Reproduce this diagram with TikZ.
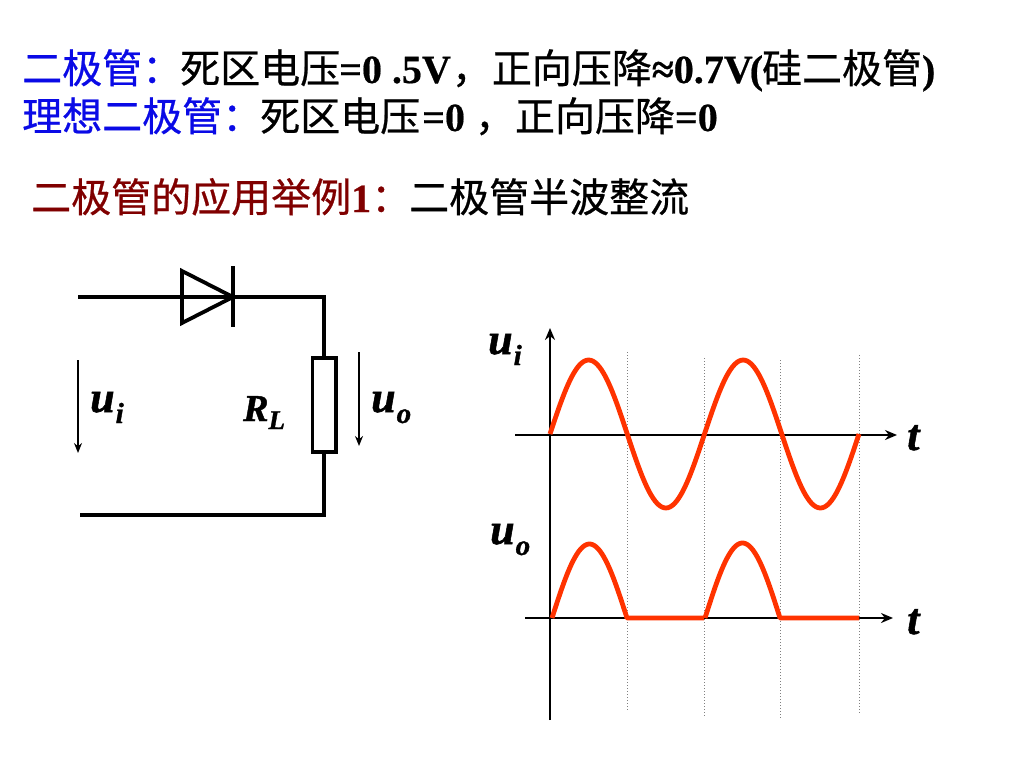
\documentclass[tikz,border=0pt]{standalone}
\usepackage{fontspec}
\setmainfont[BoldFeatures={FakeBold=0.5},BoldItalicFeatures={FakeBold=1.2}]{Liberation Serif}
\newfontfamily\cjk[FakeBold=0.6]{Noto Sans CJK SC}
\usetikzlibrary{arrows.meta}
\definecolor{cblue}{RGB}{10,10,230}
\definecolor{cdark}{RGB}{128,0,0}
\definecolor{cred}{RGB}{255,51,0}
\newcommand{\cn}[1]{{\cjk\mdseries #1}}
\newcommand{\varsub}[2]{{\fontsize{44}{44}\selectfont\bfseries\itshape #1\hspace{1pt}\raisebox{-11pt}{\fontsize{29}{29}\selectfont #2}}}
\tikzset{
  txt/.style={anchor=base west,inner sep=0pt,font=\fontsize{40}{40}\selectfont\bfseries},
  var/.style={anchor=base west,inner sep=0pt},
  wire/.style={line width=3.8pt,line cap=butt,line join=miter},
  sig/.style={-{Stealth[length=10pt,width=8pt]},line width=2.4pt},
  axis/.style={-{Stealth[length=12pt,width=10pt]},line width=2.6pt},
  guide/.style={dotted,line width=1pt,gray},
  wave/.style={cred,line width=4.8pt,line join=round,line cap=butt},
}
\begin{document}
\begin{tikzpicture}[x=1pt,y=-1pt]
\useasboundingbox (0,0) rectangle (1024,768);
\fill[white] (0,0) rectangle (1024,768);
% headings
\node[txt] (h1a) at (22,83) {\textcolor{cblue}{\cn{二极管：}}\hspace{-2pt}\cn{死区电压}\hspace{-1pt}=0 .5V\hspace{1pt}\cn{，正向压降}≈0.7V\hspace{-3pt}(\hspace{-1pt}\cn{硅二极管})};
\node[txt] (h2a) at (22,131) {\textcolor{cblue}{\cn{理想二极管：}}\hspace{-2pt}\cn{死区电压}\hspace{2pt}=0 \cn{，正向压降}=0};
\node[txt] (h3a) at (31,212) {\textcolor{cdark}{\cn{二极管的应用举例}1\cn{：}}\hspace{-2pt}\cn{二极管半波整流}};
% circuit
\coordinate (inTop) at (78,297);
\coordinate (triT) at (182,271);
\coordinate (triB) at (182,323);
\coordinate (cath) at (233,297);
\coordinate (barT) at (233,266);
\coordinate (barB) at (233,327);
\coordinate (corTop) at (324,297);
\coordinate (resT) at (324,358);
\coordinate (resB) at (324,452);
\coordinate (corBot) at (324,515);
\coordinate (inBot) at (80,515);
\draw[wire] (inTop) -- (cath) -- (corTop) -- (resT);
\draw[wire] (triT) -- (cath) -- (triB) -- cycle;
\draw[wire] (barT) -- (barB);
\draw[wire] (312.5,358) rectangle (336,452);
\draw[wire] (resB) -- (corBot) -- (inBot);
\coordinate (uiT) at (78,360);
\coordinate (uiB) at (78,453);
\coordinate (uoT) at (359,352);
\coordinate (uoB) at (359,446);
\draw[sig] (uiT) -- (uiB);
\draw[sig] (uoT) -- (uoB);
\node[var] (lui) at (90,412) {\varsub{u}{i}};
\node[var] (luo) at (371,412) {\varsub{u}{o}};
\node[var] (lrl) at (243,421) {{\fontsize{38}{38}\selectfont\bfseries\itshape R\raisebox{-8pt}{\fontsize{27}{27}\selectfont L}}};
% guides
\draw[guide] (627,352) -- (627,710);
\draw[guide] (704,358) -- (704,717);
\draw[guide] (780,360) -- (780,718);
\draw[guide] (859,355) -- (859,714);
% axes
\coordinate (yB) at (550,720);
\coordinate (yT) at (550,328);
\coordinate (x1L) at (515,435);
\coordinate (x1R) at (897,435);
\coordinate (x2L) at (525,618);
\coordinate (x2R) at (893,618);
\draw[axis] (yB) -- (yT);
\draw[axis] (x1L) -- (x1R);
\draw[axis] (x2L) -- (x2R);
% waves
\draw[wave] plot[domain=0:720,samples=145,smooth] ({550+\x*0.42917},{434-74*sin(\x)});
\draw[wave] plot[domain=0:180,samples=40,smooth] ({552+\x*0.41667},{618-74*sin(\x)}) -- (704,618);
\draw[wave] plot[domain=0:180,samples=40,smooth] ({705+\x*0.41667},{618-75*sin(\x)}) -- (859,618);
% labels
\node[var] (lui2) at (488,354) {\varsub{u}{i}};
\node[var] (luo2) at (490,544) {\varsub{u}{o}};
\node[var] (lt1) at (907,450) {{\fontsize{44}{44}\selectfont\bfseries\itshape t}};
\node[var] (lt2) at (907,634) {{\fontsize{44}{44}\selectfont\bfseries\itshape t}};
\end{tikzpicture}
\end{document}
